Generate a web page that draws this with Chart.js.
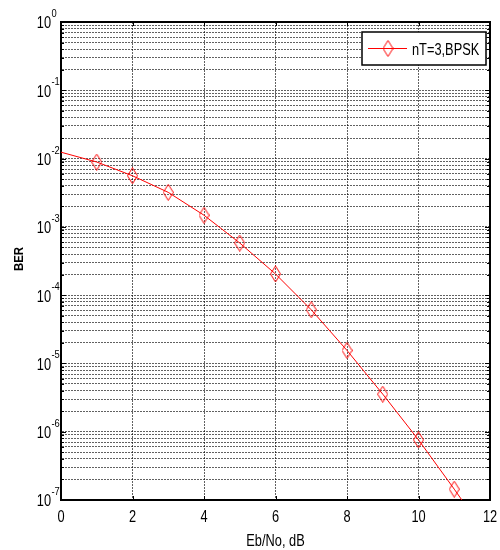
<!DOCTYPE html>
<html><head><meta charset="utf-8">
<script src="https://cdn.jsdelivr.net/npm/chart.js@4/dist/chart.umd.min.js"></script>
<style>html,body{margin:0;padding:0;background:#fff;}#wrap{width:500px;height:550px;position:relative;}</style>
</head><body><div id="wrap"><canvas id="c" width="500" height="550"></canvas></div>
<script>
// ---- data ----
const ebno = [0, 1, 2, 3, 4, 5, 6, 7, 8, 9, 10, 11, 12];
const ber = [1.24e-2, 8.9e-3, 5.6e-3, 3.2e-3, 1.48e-3, 5.8e-4, 2.04e-4, 6.1e-5, 1.55e-5, 3.55e-6, 7.6e-7, 1.44e-7, 2.6e-8];
const markerShown = [false, true, true, true, true, true, true, true, true, true, true, true, false];
const xTicks = [0, 2, 4, 6, 8, 10, 12];
const yDecades = [0, -1, -2, -3, -4, -5, -6, -7];
const seriesLabel = 'nT=3,BPSK';
const xTitle = 'Eb/No, dB';
const yTitle = 'BER';

const SANS = "'Liberation Sans', Arial, sans-serif";
const RED = '#ff0000';
const SX = 0.8; // horizontal squeeze to mimic the narrow face

function diamond(w, h) {
  const c = document.createElement('canvas');
  c.width = w; c.height = h;
  const g = c.getContext('2d');
  g.strokeStyle = RED; g.lineWidth = 1;
  g.beginPath();
  g.moveTo(w / 2, 0.5); g.lineTo(w - 0.5, h / 2); g.lineTo(w / 2, h - 0.5); g.lineTo(0.5, h / 2);
  g.closePath(); g.stroke();
  return c;
}
const marker = diamond(11, 17);

const minDec = Math.min(...yDecades), maxDec = Math.max(...yDecades);
function logTicks() {
  const t = [];
  for (let d = minDec; d < maxDec; d++) {
    for (let k = 1; k <= 9; k++) t.push({ value: k * Math.pow(10, d), major: k === 1 });
  }
  t.push({ value: Math.pow(10, maxDec), major: true });
  return t;
}

function sText(ctx, txt, x, y, size, align, sx, weight) {
  ctx.save();
  ctx.font = (weight ? weight + ' ' : '') + size + 'px ' + SANS;
  ctx.textBaseline = 'middle';
  ctx.textAlign = 'left';
  const w = ctx.measureText(txt).width * sx;
  const left = align === 'center' ? x - w / 2 : align === 'right' ? x - w : x;
  ctx.translate(left, y);
  ctx.scale(sx, 1);
  ctx.fillText(txt, 0, 0);
  ctx.restore();
}

const gridColor = 'rgba(0,0,0,0.62)';

const overlay = {
  id: 'overlay',
  afterDraw(chart) {
    const ctx = chart.ctx;
    const a = chart.chartArea;
    const xs = chart.scales.x, ys = chart.scales.y;
    ctx.save();
    // frame top / right
    ctx.strokeStyle = '#000';
    ctx.lineWidth = 2;
    ctx.beginPath();
    ctx.moveTo(a.left, a.top); ctx.lineTo(a.right, a.top); ctx.lineTo(a.right, a.bottom);
    ctx.stroke();
    // inside ticks
    ctx.lineWidth = 1;
    ctx.beginPath();
    ys.ticks.forEach(t => {
      const y = Math.round(ys.getPixelForValue(t.value)) + 0.5;
      const len = t.major ? 5 : 3;
      ctx.moveTo(a.left, y); ctx.lineTo(a.left + len, y);
      ctx.moveTo(a.right, y); ctx.lineTo(a.right - len, y);
    });
    xTicks.forEach(v => {
      const x = Math.round(xs.getPixelForValue(v)) + 0.5;
      ctx.moveTo(x, a.bottom); ctx.lineTo(x, a.bottom - 4);
      ctx.moveTo(x, a.top); ctx.lineTo(x, a.top + 4);
    });
    ctx.stroke();
    ctx.fillStyle = '#000';
    // x tick labels
    xTicks.forEach(v => {
      sText(ctx, String(v), xs.getPixelForValue(v), a.bottom + 18, 16, 'center', SX);
    });
    // y tick labels 10^n
    yDecades.forEach(d => {
      const y = ys.getPixelForValue(Math.pow(10, d));
      sText(ctx, '10', 51, y + 2, 16, 'right', SX);
      sText(ctx, String(d), 51.5, y - 8, 11, 'left', 0.85);
    });
    // y title
    ctx.save();
    ctx.translate(20, (a.top + a.bottom) / 2 - 2);
    ctx.rotate(-Math.PI / 2);
    sText(ctx, yTitle, 0, 0, 12, 'center', 0.95, 'bold');
    ctx.restore();
    // x title
    sText(ctx, xTitle, (a.left + a.right) / 2, 542, 16, 'center', SX);
    // legend
    const lx = 362, ly = 32, lw = 124, lh = 33;
    ctx.fillStyle = '#fff';
    ctx.fillRect(lx, ly, lw, lh);
    ctx.strokeStyle = '#000'; ctx.lineWidth = 1.5;
    ctx.strokeRect(lx, ly, lw, lh);
    ctx.strokeStyle = RED; ctx.lineWidth = 1;
    ctx.beginPath(); ctx.moveTo(368, 48.5); ctx.lineTo(407, 48.5); ctx.stroke();
    ctx.drawImage(marker, 388 - 5.5, 48.5 - 8.5);
    ctx.fillStyle = '#000';
    sText(ctx, seriesLabel, 412, 51, 16, 'left', SX);
    ctx.restore();
  }
};

new Chart(document.getElementById('c'), {
  type: 'line',
  data: {
    datasets: [{
      label: seriesLabel,
      data: ebno.map((x, i) => ({ x: x, y: ber[i] })),
      borderColor: RED,
      borderWidth: 1,
      backgroundColor: RED,
      pointStyle: marker,
      pointRadius: markerShown.map(s => s ? 5 : 0),
      pointHoverRadius: 0,
      tension: 0,
      fill: false
    }]
  },
  options: {
    responsive: false,
    animation: false,
    events: [],
    layout: { padding: { left: 0, right: 10, top: 22, bottom: 0 } },
    plugins: { legend: { display: false }, tooltip: { enabled: false } },
    scales: {
      x: {
        type: 'linear', min: 0, max: 12,
        afterBuildTicks: s => { s.ticks = xTicks.map(v => ({ value: v })); },
        afterFit: s => { s.height = 50; },
        ticks: { display: false },
        grid: { color: gridColor, lineWidth: 1, drawTicks: false },
        border: { display: true, color: '#000', width: 2, dash: [2, 1] }
      },
      y: {
        type: 'logarithmic', min: Math.pow(10, minDec), max: Math.pow(10, maxDec),
        afterBuildTicks: s => { s.ticks = logTicks(); },
        afterFit: s => { s.width = 61; },
        ticks: { display: false },
        grid: { color: gridColor, lineWidth: 1, drawTicks: false },
        border: { display: true, color: '#000', width: 2, dash: [2, 1] }
      }
    }
  },
  plugins: [overlay]
});
</script>
</body></html>
